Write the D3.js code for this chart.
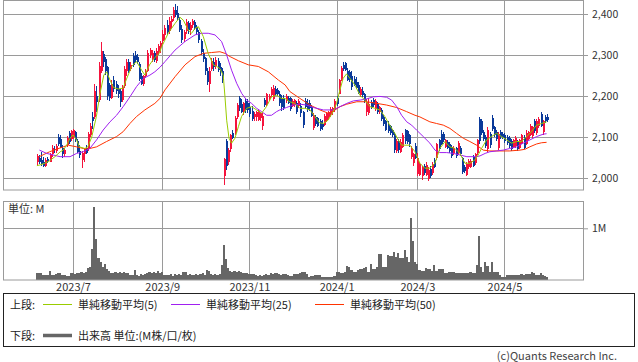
<!DOCTYPE html>
<html>
<head>
<meta charset="utf-8">
<script src="https://cdn.jsdelivr.net/npm/d3@7"></script>
<style>
  body { margin: 0; background: #fff; }
  svg { display: block; }
  text { font-family: "Noto Sans CJK JP", "DejaVu Sans", sans-serif; }
</style>
</head>
<body>
<svg id="grafico" width="638" height="362"></svg>
<script>
// --- dados (um pregão por posição, 2023/6/8 .. 2024/5/31) ---
const opens = [
  2038,2050,2044,2040,2030,2046,2040,2058,2070,2066,2100,2094,2074,2058,2080,2110,2094,2100,2112,2090,
  2066,2044,2058,2072,2070,2106,2150,2150,2200,2190,2262,2302,2290,2270,2228,2196,2240,2230,2218,2212,
  2190,2224,2260,2284,2266,2298,2300,2296,2278,2250,2230,2248,2262,2300,2290,2306,2286,2308,2320,2334,
  2350,2372,2358,2380,2390,2410,2402,2386,2364,2340,2358,2378,2360,2372,2380,2368,2356,2334,2306,2292,
  2260,2230,2266,2284,2272,2286,2270,2262,2004,2090,2040,2070,2110,2110,2148,2196,2180,2160,2188,2184,
  2172,2164,2148,2150,2142,2146,2126,2190,2180,2192,2202,2192,2218,2214,2206,2196,2196,2188,2196,2194,
  2176,2178,2184,2176,2176,2160,2188,2182,2184,2174,2122,2150,2146,2140,2132,2130,2142,2148,2156,2160,
  2166,2194,2206,2240,2276,2280,2262,2258,2250,2242,2234,2228,2202,2212,2204,2160,2158,2186,2190,2168,
  2180,2160,2166,2150,2138,2130,2126,2116,2108,2066,2090,2064,2076,2116,2114,2104,2052,2036,2078,2010,
  2008,2004,2030,2008,1998,2022,2012,2044,2048,2092,2108,2108,2076,2088,2084,2076,2060,2072,2060,2072,
  2048,2028,2008,2026,2028,2052,2036,2060,2144,2138,2112,2100,2070,2108,2146,2124,2112,2074,2112,2108,
  2106,2100,2098,2090,2076,2078,2088,2074,2086,2100,2084,2096,2106,2102,2140,2110,2126,2156,2112,2150,2148
];
const highs = [
  2058,2056,2064,2052,2048,2052,2062,2080,2078,2082,2108,2104,2080,2072,2102,2114,2118,2120,2114,2094,
  2080,2066,2074,2080,2112,2134,2160,2230,2225,2282,2332,2310,2296,2272,2232,2238,2250,2236,2226,2218,
  2228,2272,2290,2290,2282,2304,2310,2302,2284,2256,2252,2266,2312,2318,2312,2310,2316,2328,2334,2360,
  2372,2386,2392,2396,2418,2424,2420,2392,2372,2362,2388,2384,2380,2388,2386,2372,2362,2340,2314,2296,
  2268,2270,2292,2292,2294,2292,2280,2268,2050,2096,2074,2108,2118,2152,2182,2200,2192,2186,2194,2192,
  2184,2176,2160,2164,2168,2162,2158,2194,2208,2204,2222,2226,2224,2220,2212,2202,2202,2204,2200,2198,
  2192,2192,2188,2192,2182,2164,2194,2192,2190,2178,2158,2154,2150,2144,2142,2156,2162,2164,2172,2174,
  2192,2200,2242,2272,2282,2282,2268,2264,2262,2250,2246,2234,2222,2222,2208,2192,2194,2190,2196,2192,
  2186,2176,2170,2154,2142,2138,2130,2120,2112,2094,2094,2096,2110,2120,2118,2108,2078,2062,2086,2060,
  2038,2030,2034,2038,2026,2030,2038,2048,2086,2096,2118,2112,2096,2092,2088,2080,2078,2076,2090,2078,
  2052,2032,2038,2046,2046,2056,2062,2096,2150,2144,2116,2104,2124,2112,2154,2128,2116,2112,2116,2112,
  2110,2104,2102,2094,2096,2102,2092,2096,2108,2104,2116,2114,2132,2128,2144,2144,2148,2160,2142,2154,2156
];
const lows = [
  2032,2034,2030,2026,2026,2036,2038,2052,2060,2062,2078,2072,2050,2052,2076,2084,2090,2096,2088,2060,
  2048,2024,2040,2058,2066,2100,2120,2145,2160,2186,2256,2270,2252,2190,2188,2192,2210,2205,2196,2172,
  2186,2220,2250,2256,2260,2270,2282,2278,2236,2226,2224,2244,2258,2292,2284,2282,2280,2300,2304,2326,
  2336,2350,2352,2366,2384,2392,2386,2356,2330,2332,2352,2352,2350,2366,2360,2350,2330,2300,2282,2252,
  2226,2210,2262,2262,2266,2258,2250,2232,1982,2020,2032,2064,2094,2106,2144,2164,2158,2154,2158,2158,
  2148,2138,2140,2138,2138,2140,2116,2172,2176,2188,2198,2188,2200,2200,2176,2164,2166,2184,2180,2164,
  2172,2174,2156,2170,2150,2122,2168,2162,2164,2148,2116,2126,2124,2114,2118,2126,2136,2142,2150,2154,
  2162,2176,2204,2236,2262,2260,2236,2234,2214,2224,2216,2204,2198,2198,2184,2152,2154,2168,2174,2164,
  2156,2156,2140,2128,2114,2110,2106,2100,2062,2062,2062,2060,2072,2084,2084,2076,2046,2030,2046,2006,
  2004,1996,2008,2004,1992,2000,2008,2024,2044,2066,2080,2088,2072,2070,2062,2050,2056,2050,2056,2054,
  2010,2012,2004,2022,2024,2026,2032,2056,2084,2106,2090,2074,2064,2074,2114,2100,2090,2068,2096,2094,
  2086,2080,2074,2066,2072,2074,2066,2070,2082,2070,2080,2092,2102,2098,2110,2106,2122,2124,2106,2134,2136
];
const closes = [
  2054,2040,2034,2030,2045,2042,2058,2074,2068,2078,2082,2076,2058,2068,2098,2088,2114,2116,2092,2064,
  2056,2060,2070,2062,2108,2128,2140,2212,2185,2272,2310,2282,2262,2200,2194,2230,2216,2212,2204,2186,
  2222,2266,2282,2262,2276,2276,2288,2284,2242,2230,2248,2262,2306,2312,2306,2288,2310,2322,2330,2352,
  2366,2356,2384,2388,2410,2398,2390,2362,2336,2356,2380,2360,2374,2382,2366,2356,2336,2308,2290,2262,
  2234,2262,2286,2270,2288,2264,2258,2240,2046,2030,2068,2104,2098,2146,2178,2170,2162,2182,2166,2166,
  2156,2144,2156,2160,2164,2158,2152,2178,2204,2200,2216,2220,2206,2204,2182,2172,2170,2200,2184,2168,
  2188,2190,2160,2188,2158,2130,2172,2166,2170,2152,2154,2132,2128,2120,2124,2152,2158,2160,2168,2170,
  2188,2180,2238,2268,2266,2264,2240,2240,2222,2228,2220,2208,2216,2202,2188,2186,2180,2172,2178,2188,
  2160,2172,2144,2132,2118,2114,2110,2104,2068,2090,2068,2088,2104,2090,2088,2082,2074,2058,2050,2048,
  2034,2026,2012,2032,2020,2006,2034,2028,2082,2070,2084,2092,2092,2074,2066,2054,2074,2054,2086,2058,
  2014,2016,2034,2042,2042,2030,2058,2092,2090,2110,2094,2078,2118,2080,2120,2104,2094,2108,2100,2098,
  2090,2086,2078,2070,2092,2098,2070,2092,2104,2074,2110,2112,2128,2124,2114,2140,2144,2128,2138,2138,2142
];
//出来高 (M)
const volumes = [
  .14,.13,.13,.10,.10,.10,.18,.10,.10,.11,.13,.13,.10,.10,.08,.08,.13,.13,.12,.14,
  .14,.15,.14,.16,.23,.26,.59,1.41,.79,.42,.35,.26,.31,.21,.18,.14,.14,.15,.13,.16,
  .14,.15,.13,.13,.10,.10,.19,.10,.08,.12,.09,.11,.14,.16,.13,.15,.14,.18,.13,.15,
  .10,.10,.09,.11,.08,.12,.09,.12,.10,.16,.15,.10,.11,.09,.10,.12,.10,.11,.13,.10,
  .19,.18,.11,.10,.12,.10,.11,.29,.68,.40,.23,.17,.16,.18,.16,.17,.15,.14,.13,.14,
  .12,.11,.12,.09,.08,.10,.08,.10,.11,.10,.13,.12,.14,.14,.12,.10,.11,.12,.10,.08,
  .08,.12,.11,.12,.14,.16,.15,.11,.05,.08,.08,.10,.09,.10,.05,.05,.05,.06,.06,.06,
  .07,.16,.16,.14,.14,.16,.27,.26,.19,.16,.16,.19,.21,.21,.23,.26,.16,.31,.22,.21,
  .26,.50,.50,.26,.26,.48,.46,.46,.55,.44,.53,.42,.42,.58,.44,.35,1.19,.76,.35,.31,
  .19,.18,.18,.23,.21,.21,.18,.29,.18,.21,.21,.21,.14,.14,.16,.15,.16,.13,.13,.14,
  .14,.14,.14,.14,.15,.13,.13,.29,.85,.26,.16,.35,.27,.16,.34,.16,.15,.16,.10,.06,
  .06,.10,.10,.10,.09,.10,.10,.10,.11,.10,.12,.12,.11,.16,.14,.10,.10,.14,.10,.08,.06
];

// médias móveis: [posição do pregão, valor]
const ma5 = [[0,2030],[1.5,2032],[3.8,2036],[6,2042],[8.5,2052],[11,2064],[12.4,2068],[14,2080],[15.6,2097],[17,2105],
  [18.7,2093],[20,2076],[22.6,2072],[24,2076],[25.8,2100],[28,2150],[29.7,2206],[31.5,2251],[32.8,2259],[34.4,2239],
  [36,2221],[38.3,2217],[40.6,2219],[42,2239],[44.6,2272],[46.9,2284],[49.3,2263],[50.8,2251],[53,2276],[55.5,2294],
  [57.6,2304],[58.7,2320],[61.8,2353],[65,2377],[67.3,2392],[68.9,2385],[71.2,2361],[72.8,2353],[74.4,2365],[76,2369],
  [78.3,2345],[80.6,2304],[83,2276],[84.6,2272],[86.1,2267],[87.7,2250],[88.5,2198],[89.3,2141],[90.4,2097],[91.6,2085],
  [93.2,2097],[94.8,2125],[96.3,2150],[98.7,2170],[101,2174],[103.4,2166],[105.7,2158],[108,2174],[110.4,2198],[112.8,2202],
  [115.1,2194],[116.7,2194],[119,2186],[121.4,2182],[123.7,2170],[126.1,2170],[128.5,2166],[130.8,2150],[132.9,2135],[134.7,2133],
  [137,2141],[139.4,2162],[141,2182],[142.6,2215],[144.1,2243],[145.7,2254],[147.3,2243],[149.6,2227],[152,2202],[154.3,2190],
  [156.7,2174],[159,2170],[161.4,2166],[163.7,2150],[166,2129],[168.4,2109],[170,2093],[171.6,2080],[173.1,2080],[175.5,2080],
  [177.9,2064],[180.2,2036],[182.5,2024],[184.9,2024],[187.3,2036],[189.6,2072],[192,2089],[194.3,2076],[196.7,2072],[199,2060],
  [201.4,2036],[203.7,2036],[206.1,2044],[207.6,2056],[209.2,2072],[211.6,2093],[213.9,2101],[216.3,2109],[218.6,2101],[221,2093],
  [223.3,2085],[225.7,2089],[228,2089],[230.4,2101],[232.7,2113],[235.1,2129],[237.5,2133],[239.8,2137]];
const ma25 = [[1.2,2068],[4.6,2060],[10.9,2052],[15.6,2052],[18.7,2060],[21.8,2064],[24.9,2072],[28.1,2093],[31.2,2117],[34.4,2137],
  [37.5,2153],[40.6,2174],[43.8,2198],[46.9,2223],[50.1,2243],[53.2,2251],[55.5,2259],[57.9,2270],[60.3,2284],[65,2312],
  [69.7,2333],[74.4,2349],[77.5,2353],[80.6,2353],[83.8,2349],[86.9,2333],[89.3,2300],[91.6,2263],[94,2231],[96.4,2206],
  [98.7,2190],[101,2182],[103.4,2170],[105.7,2162],[108.1,2153],[110.4,2153],[112.8,2162],[114.3,2166],[117.5,2172],[120.6,2178],
  [123.8,2180],[126.9,2178],[130.1,2172],[134.8,2166],[139.5,2166],[142.6,2174],[145.8,2182],[148.9,2188],[152.1,2190],[155.2,2193],
  [158.3,2198],[161.4,2199],[164.5,2197],[166.9,2190],[169.3,2174],[171.6,2153],[174,2137],[176.3,2129],[178.6,2117],[181.8,2101],
  [184.9,2085],[187.3,2068],[189.6,2062],[192.8,2062],[196,2060],[199.1,2056],[202.3,2052],[207,2052],[208.5,2054],[210.9,2060],
  [213.1,2064],[216.3,2066],[219.4,2068],[222.5,2072],[225.7,2076],[228.8,2085],[232,2093],[235.1,2101],[238.3,2107],[239.8,2108]];
const ma50 = [[1.1,2052],[6,2064],[12.4,2076],[14.8,2080],[18.7,2076],[21.8,2072],[24.2,2071],[28.1,2076],[32.8,2089],[37.5,2101],
  [40.6,2113],[43.8,2133],[46.9,2150],[50.8,2166],[55.5,2182],[57.9,2194],[60.3,2215],[65,2247],[69.7,2276],[74.4,2296],
  [78.3,2304],[82.2,2306],[86.1,2308],[88.5,2304],[90.9,2296],[94.8,2286],[99.5,2276],[104.2,2272],[108.9,2259],[113.6,2239],
  [116.8,2227],[119,2211],[123.8,2194],[128.5,2178],[133.2,2166],[137.1,2158],[140.3,2166],[142.6,2174],[145.8,2180],[150.5,2186],
  [155.2,2186],[159.9,2182],[164.5,2178],[169.2,2172],[173.9,2162],[177.9,2153],[180.2,2149],[184.9,2137],[188,2133],[191.2,2129],
  [194.3,2121],[197.4,2109],[200.6,2097],[203.7,2089],[206.9,2080],[210,2068],[213.1,2066],[217.8,2066],[222.5,2066],[227.3,2068],
  [229.6,2070],[231.9,2076],[235.1,2083],[237.5,2086],[239.8,2087]];

const priceTicks = [2000, 2100, 2200, 2300, 2400];
const volTicks = [1];
const monthIdx = [17, 59, 100, 141, 179, 220];
const monthLabels = ["2023/7", "2023/9", "2023/11", "2024/1", "2024/3", "2024/5"];
const legendTop = ["単純移動平均(5)", "単純移動平均(25)", "単純移動平均(50)"];

// --- layout ---
const L = 3, R = 583;
const PT = 0.5, PB = 190;   // painel de preço
const VT = 201.5, VB = 280; // painel de volume
const GRID = "#9a9a9a";
const UP = "#f5133d", DOWN = "#0b3a9a";
const C5 = "#99cc00", C25 = "#a020f0", C50 = "#ff3300";

const $svg = d3.select("#grafico");
$svg.append("rect").attr("width", 638).attr("height", 362).attr("fill", "#fff");

const x = d3.scaleLinear().domain([17, 240]).range([73, 547]);
const yP = d3.scaleLinear().domain([2000, 2400]).range([178, 14]);
const yV = d3.scaleLinear().domain([0, 1]).range([VB, 228.3]);

const px = v => Math.round(v) + 0.5;

// grades
const grid = $svg.append("g").attr("stroke", GRID).attr("stroke-width", 1).attr("fill", "none");
priceTicks.forEach(t => grid.append("line").attr("x1", L).attr("x2", R).attr("y1", px(yP(t))).attr("y2", px(yP(t))));
volTicks.forEach(t => grid.append("line").attr("x1", L).attr("x2", R).attr("y1", px(yV(t))).attr("y2", px(yV(t))));
monthIdx.forEach(i => {
  grid.append("line").attr("x1", px(x(i))).attr("x2", px(x(i))).attr("y1", PT).attr("y2", PB);
  grid.append("line").attr("x1", px(x(i))).attr("x2", px(x(i))).attr("y1", VT).attr("y2", VB);
});

// clip do painel de preço
$svg.append("clipPath").attr("id", "clipP")
  .append("rect").attr("x", L).attr("y", PT).attr("width", R - L).attr("height", PB - PT);

const dados = closes.map((c, i) => ({ i, o: opens[i], h: highs[i], l: lows[i], c, v: volumes[i] }));

// candles
const gC = $svg.append("g").attr("clip-path", "url(#clipP)").attr("shape-rendering", "crispEdges");
gC.selectAll("line.wick").data(dados).enter().append("line")
  .attr("class", "wick")
  .attr("x1", d => px(x(d.i))).attr("x2", d => px(x(d.i)))
  .attr("y1", d => yP(d.h)).attr("y2", d => yP(d.l))
  .attr("stroke", d => d.c >= d.o ? UP : DOWN).attr("stroke-width", 1);
gC.selectAll("rect.body").data(dados).enter().append("rect")
  .attr("class", "body")
  .attr("x", d => Math.round(x(d.i)) - 0.5)
  .attr("width", 2)
  .attr("y", d => yP(Math.max(d.o, d.c)))
  .attr("height", d => Math.max(1, Math.abs(yP(d.o) - yP(d.c))))
  .attr("fill", d => d.c >= d.o ? UP : DOWN);

// médias móveis
const linha = d3.line().x(d => x(d[0])).y(d => yP(d[1]));
const gM = $svg.append("g").attr("clip-path", "url(#clipP)").attr("fill", "none");
[[ma50, C50], [ma25, C25], [ma5, C5]].forEach(([serie, cor]) => {
  gM.append("path").datum(serie).attr("d", linha).attr("stroke", cor).attr("stroke-width", 1);
});

// volume
$svg.append("g").attr("shape-rendering", "crispEdges")
  .selectAll("rect").data(dados).enter().append("rect")
  .attr("x", d => Math.round(x(d.i - 0.5)))
  .attr("width", d => Math.round(x(d.i + 0.5)) - Math.round(x(d.i - 0.5)))
  .attr("y", d => yV(d.v))
  .attr("height", d => VB - yV(d.v))
  .attr("fill", "#666");

// bordas dos painéis
$svg.append("rect").attr("x", L + 0.5).attr("y", PT).attr("width", R - L).attr("height", PB - PT)
  .attr("fill", "none").attr("stroke", GRID);
$svg.append("rect").attr("x", L + 0.5).attr("y", VT).attr("width", R - L).attr("height", VB - VT)
  .attr("fill", "none").attr("stroke", GRID);

// eixos
const estiloEixo = (g, fonte, tam) => {
  g.select(".domain").remove();
  g.selectAll("line").attr("stroke", GRID);
  g.selectAll("text").attr("font-family", fonte).attr("font-size", tam).attr("fill", "#333");
};
$svg.append("g").attr("transform", `translate(${R},0)`)
  .call(d3.axisRight(yP).tickValues(priceTicks).tickSize(5).tickPadding(4).tickFormat(d3.format(",")))
  .call(g => estiloEixo(g, "DejaVu Sans", 10.5));
$svg.append("g").attr("transform", `translate(${R},0)`)
  .call(d3.axisRight(yV).tickValues(volTicks).tickSize(5).tickPadding(4).tickFormat(d => d + "M"))
  .call(g => estiloEixo(g, "DejaVu Sans", 10.5));
$svg.append("g").attr("transform", `translate(0,${VB})`)
  .call(d3.axisBottom(x).tickValues(monthIdx).tickSize(0).tickPadding(3).tickFormat((d, k) => monthLabels[k]))
  .call(g => estiloEixo(g, "Liberation Sans", 11));

$svg.append("text").attr("x", 8).attr("y", 213).attr("font-size", 11).attr("fill", "#333").text("単位: M");

// legenda
const $leg = $svg.append("g");
$leg.append("rect").attr("x", 3.5).attr("y", 293.5).attr("width", 631).attr("height", 53)
  .attr("fill", "none").attr("stroke", "#222");
$leg.append("text").attr("x", 10).attr("y", 309).attr("font-size", 11).attr("fill", "#222").text("上段:");
const legX = [43, 171, 315];
[C5, C25, C50].forEach((cor, k) => {
  $leg.append("line").attr("x1", legX[k]).attr("x2", legX[k] + 29).attr("y1", 304.5).attr("y2", 304.5)
    .attr("stroke", cor).attr("stroke-width", 1);
  $leg.append("text").attr("x", legX[k] + 35).attr("y", 309).attr("font-size", 11).attr("fill", "#222").text(legendTop[k]);
});
$leg.append("text").attr("x", 10).attr("y", 340).attr("font-size", 11).attr("fill", "#222").text("下段:");
$leg.append("line").attr("x1", 43).attr("x2", 72).attr("y1", 335.5).attr("y2", 335.5)
  .attr("stroke", "#666").attr("stroke-width", 3.5);
$leg.append("text").attr("x", 78).attr("y", 340).attr("font-size", 11).attr("fill", "#222").text("出来高 単位:(M株/口/枚)");

$svg.append("text").attr("x", 617).attr("y", 360).attr("text-anchor", "end")
  .attr("font-family", "Liberation Sans").attr("font-size", 11).attr("fill", "#444")
  .text("(c)Quants Research Inc.");
</script>
</body>
</html>
